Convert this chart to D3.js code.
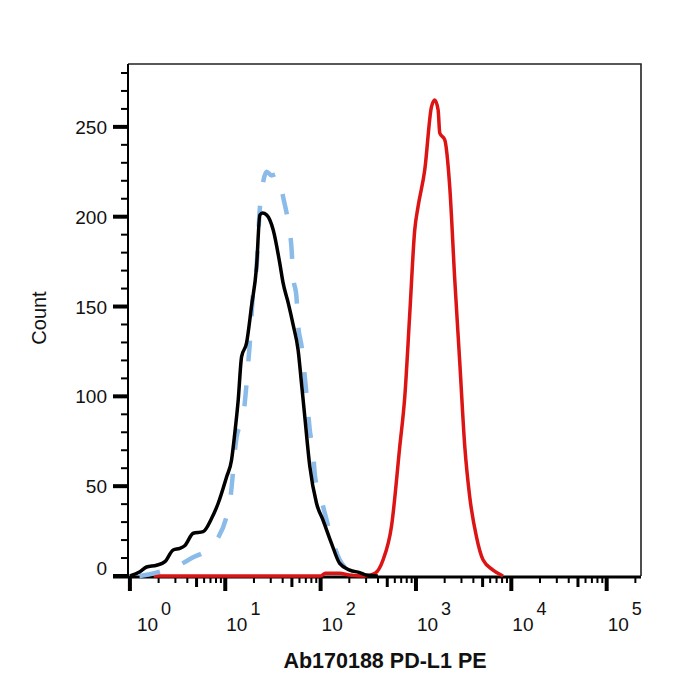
<!DOCTYPE html>
<html>
<head>
<meta charset="utf-8">
<script src="https://cdn.jsdelivr.net/npm/d3@7"></script>
<style>
	body { margin: 0; background: #fff; }
	svg text { font-family: "Liberation Sans", Arial, sans-serif; fill: #111; }
</style>
</head>
<body>
<div id="chart"></div>
<script>
// decade exponents shown on the x axis
const xDecades = [0, 1, 2, 3, 4, 5];
const yTicks = [0, 50, 100, 150, 200, 250];

// curves, x stored as log10 of the PE intensity
const blackLog = [0, 0.105, 0.175, 0.28, 0.367, 0.454, 0.524, 0.577, 0.664, 0.768, 0.856, 0.926, 1.013, 1.066, 1.1, 1.136, 1.171, 1.223, 1.275, 1.328, 1.363, 1.39, 1.433, 1.503, 1.572, 1.607, 1.66, 1.712, 1.764, 1.8, 1.834, 1.887, 1.957, 2.026, 2.114, 2.2, 2.306, 2.41, 2.48, 2.6];
const blackCount = [0, 2.4, 5, 6, 8, 14.5, 15.4, 17, 23.8, 24.7, 32, 40.5, 55, 64.6, 79.5, 98, 122, 129.6, 150, 172, 201, 202, 201, 192.6, 174, 163, 152, 139.8, 125.8, 107, 88.7, 60.9, 40.5, 31, 18.2, 7, 3.3, 1.9, 0.5, 0];

const blueLog = [0.1, 0.21, 0.35, 0.47, 0.68, 0.8, 0.91, 1.013, 1.05, 1.118, 1.188, 1.24, 1.258, 1.293, 1.328, 1.363, 1.4, 1.433, 1.485, 1.555, 1.607, 1.66, 1.694, 1.712, 1.747, 1.764, 1.8, 1.834, 1.87, 1.887, 1.92, 1.94, 2.01, 2.1, 2.2, 2.3, 2.45];
const blueCount = [0, 1, 3, 5, 10.8, 14, 20, 33, 42, 77, 89, 118, 130, 159, 172, 205, 220, 225, 223, 224, 211, 197, 183, 167, 155, 140, 128, 111, 90.6, 81, 70, 56, 42, 24, 9, 3, 0.5];

const redLog = [0.25, 2.0, 2.05, 2.2, 2.3, 2.46, 2.57, 2.655, 2.743, 2.83, 2.883, 2.935, 2.987, 3.022, 3.092, 3.162, 3.197, 3.232, 3.25, 3.302, 3.354, 3.407, 3.46, 3.512, 3.564, 3.634, 3.703, 3.808, 3.913];
const redCount = [0, 0, 1.5, 1.5, 0.5, 0, 1.5, 9, 27.5, 72, 100, 146, 192.6, 205.6, 226, 261, 265, 259.5, 246.5, 242.8, 216.8, 164.8, 118.4, 72, 44, 21.9, 9, 3.3, 0];

const W = 700, H = 700;
const plotL = 128, plotR = 641, plotT = 64, plotB = 576;

const svg = d3.select('#chart')
	.append('svg')
	.attr('width', W)
	.attr('height', H);

const x = d3.scaleLog()
	.domain([Math.pow(10, -0.02), Math.pow(10, 5.36)])
	.range([plotL, plotR]);

const y = d3.scaleLinear()
	.domain([0, 285])
	.range([plotB, plotT]);

// frame top and right
svg.append('path')
	.attr('d', `M${plotL},${plotT}H${plotR}V${plotB}`)
	.attr('fill', 'none')
	.attr('stroke', '#222')
	.attr('stroke-width', 1.6);

// y axis
svg.append('line')
	.attr('x1', plotL).attr('x2', plotL)
	.attr('y1', plotT).attr('y2', plotB + 2)
	.attr('stroke', '#000')
	.attr('stroke-width', 2);

const yMinor = d3.range(0, 281, 10).filter(v => v % 50 !== 0);
svg.selectAll('.yminor')
	.data(yMinor)
	.enter().append('line')
	.attr('class', 'yminor')
	.attr('x1', plotL - 7).attr('x2', plotL)
	.attr('y1', d => y(d)).attr('y2', d => y(d))
	.attr('stroke', '#000')
	.attr('stroke-width', 2);

svg.selectAll('.ymajor')
	.data(yTicks)
	.enter().append('line')
	.attr('class', 'ymajor')
	.attr('x1', plotL - 15).attr('x2', plotL)
	.attr('y1', d => y(d)).attr('y2', d => y(d))
	.attr('stroke', '#000')
	.attr('stroke-width', 4);

svg.selectAll('.ylabel')
	.data(yTicks)
	.enter().append('text')
	.attr('class', 'ylabel')
	.attr('x', 107)
	.attr('y', d => d === 0 ? y(d) - 1 : y(d) + 7)
	.attr('text-anchor', 'end')
	.attr('font-size', 19)
	.text(d => d);

// x axis
const xMinor = [];
for (let e = 0; e <= 5; e++) {
	for (let m = 2; m <= 9; m++) {
		const v = m * Math.pow(10, e);
		if (v <= x.domain()[1]) xMinor.push({ v, m });
	}
}

svg.selectAll('.xminor')
	.data(xMinor)
	.enter().append('line')
	.attr('class', 'xminor')
	.attr('x1', d => x(d.v)).attr('x2', d => x(d.v))
	.attr('y1', plotB).attr('y2', d => d.m === 5 ? plotB + 11 : plotB + 7)
	.attr('stroke', '#000')
	.attr('stroke-width', d => d.m === 5 ? 3 : 2);

svg.selectAll('.xmajor')
	.data(xDecades)
	.enter().append('line')
	.attr('class', 'xmajor')
	.attr('x1', d => x(Math.pow(10, d))).attr('x2', d => x(Math.pow(10, d)))
	.attr('y1', plotB).attr('y2', plotB + 15)
	.attr('stroke', '#000')
	.attr('stroke-width', 4);

svg.append('line')
	.attr('x1', plotL - 15).attr('x2', plotR)
	.attr('y1', plotB + 1).attr('y2', plotB + 1)
	.attr('stroke', '#000')
	.attr('stroke-width', 3);

const xl = svg.selectAll('.xlabel')
	.data(xDecades)
	.enter().append('text')
	.attr('class', 'xlabel')
	.attr('x', d => x(Math.pow(10, d)) + (d === 0 ? 7 : 1))
	.attr('y', 631)
	.attr('font-size', 19);
xl.append('tspan').text('10');
xl.append('tspan')
	.attr('dx', 3)
	.attr('dy', -16)
	.attr('font-size', 18)
	.text(d => d);

// curves
const line = d3.line()
	.curve(d3.curveMonotoneX)
	.x(d => x(Math.pow(10, d[0])))
	.y(d => y(d[1]));

svg.append('path')
	.datum(d3.zip(redLog, redCount))
	.attr('d', line)
	.attr('fill', 'none')
	.attr('stroke', '#dc1414')
	.attr('stroke-width', 3.5)
	.attr('stroke-linejoin', 'round');

svg.append('path')
	.datum(d3.zip(blueLog, blueCount))
	.attr('d', line)
	.attr('fill', 'none')
	.attr('stroke', '#8bbbe8')
	.attr('stroke-width', 4.5)
	.attr('stroke-dasharray', '21,24');

svg.append('path')
	.datum(d3.zip(blackLog, blackCount))
	.attr('d', line)
	.attr('fill', 'none')
	.attr('stroke', '#000')
	.attr('stroke-width', 3.5)
	.attr('stroke-linejoin', 'round');

// titles
svg.append('text')
	.attr('transform', 'translate(46,318) rotate(-90)')
	.attr('text-anchor', 'middle')
	.attr('font-size', 20)
	.text('Count');

svg.append('text')
	.attr('x', 385)
	.attr('y', 668)
	.attr('text-anchor', 'middle')
	.attr('font-size', 21.5)
	.attr('font-weight', 'bold')
	.text('Ab170188 PD-L1 PE');
</script>
</body>
</html>
